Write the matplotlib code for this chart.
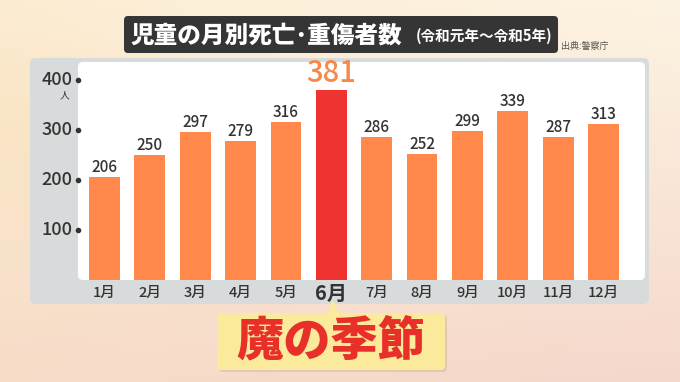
import numpy as np
import matplotlib
matplotlib.use("Agg")
import matplotlib.pyplot as plt
from matplotlib.patches import FancyBboxPatch, Polygon
import matplotlib.transforms as mtransforms

plt.rcParams['font.family'] = ['Noto Sans CJK JP', 'DejaVu Sans']

months = ["1月", "2月", "3月", "4月", "5月", "6月", "7月", "8月", "9月", "10月", "11月", "12月"]
values = [206, 250, 297, 279, 316, 381, 286, 252, 299, 339, 287, 313]
yticks = [100, 200, 300, 400]
highlight = "6月"
title_main = "児童の月別死亡･重傷者数"
title_sub = "(令和元年〜令和5年)"
source = "出典:警察庁"
unit = "人"
callout = "魔の季節"

W, H = 680, 382
fig = plt.figure(figsize=(W / 100, H / 100), dpi=100)

# background gradient
bg = fig.add_axes([0, 0, 1, 1])
bg.set_xlim(0, W)
bg.set_ylim(H, 0)
bg.axis("off")
yy, xx = np.mgrid[0:1:H * 1j, 0:1:W * 1j]
TL = np.array([252, 238, 212]) / 255
TR = np.array([253, 243, 226]) / 255
BL = np.array([247, 220, 200]) / 255
BR = np.array([245, 216, 204]) / 255
img = (TL * ((1 - xx) * (1 - yy))[..., None] + TR * (xx * (1 - yy))[..., None]
       + BL * ((1 - xx) * yy)[..., None] + BR * (xx * yy)[..., None])
warm = np.exp(-((xx - 0.0) ** 2 / 0.03 + (yy - 0.35) ** 2 / 0.08))[..., None]
img = img * (1 - 0.35 * warm) + np.array([250, 222, 180]) / 255 * 0.35 * warm
bg.imshow(img, extent=(0, W, H, 0), aspect="auto", zorder=0)

# gray panel and white panel
bg.add_patch(FancyBboxPatch((30, 58), 619, 246, boxstyle="round,pad=0,rounding_size=6",
                            fc="#d8dbdb", ec="none", zorder=1))
bg.add_patch(FancyBboxPatch((78, 62), 567, 218, boxstyle="round,pad=0,rounding_size=5",
                            fc="white", ec="none", zorder=2))

# title bar
bg.add_patch(FancyBboxPatch((124, 16), 434, 37, boxstyle="round,pad=0,rounding_size=4",
                            fc="#353535", ec="none", zorder=3))
bg.text(131, 35, title_main, color="white", fontsize=17, fontweight="heavy",
        ha="left", va="center", zorder=4)
bg.text(552, 36, title_sub, color="white", fontsize=10.5, fontweight="bold",
        ha="right", va="center", zorder=4)
bg.text(561, 47, source, color="#555555", fontsize=6.5, ha="left", va="center", zorder=4)

# callout
bg.add_patch(FancyBboxPatch((219, 315), 228, 57, boxstyle="round,pad=0,rounding_size=4",
                            fc="#c9b9a8", ec="none", alpha=0.5, zorder=3))
bg.add_patch(FancyBboxPatch((217, 313), 228, 57, boxstyle="round,pad=0,rounding_size=4",
                            fc="#fbe99c", ec="none", zorder=4))
bg.add_patch(Polygon([(327, 314), (340, 314), (333, 300)], closed=True,
                     fc="#fbe99c", ec="none", zorder=4))
bg.text(331, 341, callout, color="#e8302a", fontsize=34, fontweight="heavy",
        ha="center", va="center", zorder=5)

# chart axes
left, right, top, bottom = 78, 644, 62, 280
ax = fig.add_axes([left / W, (H - bottom) / H, (right - left) / W, (bottom - top) / H])
ax.set_facecolor("none")
ax.set_xlim(-0.584, 11.893)
ax.set_ylim(0, (bottom - top) * 2)
for s in ax.spines.values():
    s.set_visible(False)
ax.set_xticks([])
ax.set_yticks([])

x = np.arange(len(months))
colors = ["#ee3330" if m == highlight else "#ff884a" for m in months]
ax.bar(x, values, width=0.68, color=colors, zorder=3)

for xi, v, m in zip(x, values, months):
    if m == highlight:
        ax.annotate(str(v), (xi, v), xytext=(0, 0), textcoords="offset points",
                    ha="center", va="bottom", fontsize=21, color="#f7884a", zorder=5,
                    fontweight="medium", annotation_clip=False)
        ax.annotate(m, (xi, 0), xytext=(0, -9.5), textcoords="offset points",
                    ha="center", va="center", fontsize=14.5, color="#333333",
                    fontweight="bold", annotation_clip=False)
    else:
        ax.annotate(str(v), (xi, v), xytext=(0, 0.5), textcoords="offset points",
                    ha="center", va="bottom", fontsize=11, color="#333333", zorder=5,
                    fontweight="medium", annotation_clip=False)
        ax.annotate(m, (xi, 0), xytext=(0, -9.5), textcoords="offset points",
                    ha="center", va="center", fontsize=10.5, color="#333333",
                    fontweight="medium", annotation_clip=False)

trans = mtransforms.blended_transform_factory(ax.transAxes, ax.transData)
ax.plot([0] * len(yticks), yticks, "o", color="#333333", markersize=3,
        transform=trans, clip_on=False, zorder=6)
for t in yticks:
    ax.annotate(str(t), (0, t), xycoords=trans, xytext=(-4, 0), textcoords="offset points",
                ha="right", va="center", fontsize=13, color="#333333",
                fontweight="medium", annotation_clip=False)
ax.annotate(unit, (0, yticks[-1]), xycoords=trans, xytext=(-10, -11),
            textcoords="offset points", ha="center", va="center", fontsize=7,
            color="#333333", annotation_clip=False)

fig.savefig("out.png", dpi=100)
